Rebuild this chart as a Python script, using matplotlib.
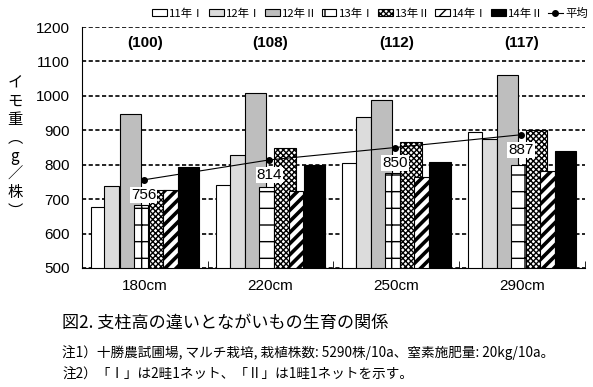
import numpy as np
import matplotlib
matplotlib.use('Agg')
from matplotlib import pyplot as plt

plt.rcParams['font.family'] = ['Noto Sans CJK JP', 'DejaVu Sans']

# 支柱高ごとの区分
groups = ['180cm', '220cm', '250cm', '290cm']
ratio_labels = ['(100)', '(108)', '(112)', '(117)']

series_names = ['11年Ⅰ', '12年Ⅰ', '12年Ⅱ', '13年Ⅰ', '13年Ⅱ', '14年Ⅰ', '14年Ⅱ']
y11_1 = [676, 740, 804, 894]
y12_1 = [737, 827, 938, 876]
y12_2 = [946, 1007, 987, 1060]
y13_1 = [682, 736, 776, 800]
y13_2 = [726, 848, 865, 900]
y14_1 = [728, 724, 763, 782]
y14_2 = [793, 799, 808, 841]
average = [756, 814, 850, 887]

series = [y11_1, y12_1, y12_2, y13_1, y13_2, y14_1, y14_2]

# 見た目の設定（棒の位置・幅・塗り）
offsets = [-0.376, -0.262, -0.118, -0.030, 0.115, 0.202, 0.348]
widths = [0.112, 0.119, 0.167, 0.117, 0.172, 0.119, 0.170]
facecolors = ['white', '#dcdcdc', '#bebebe', 'white', 'white', 'white', 'black']
hatches = [None, None, None, '+', 'xxxxxx', '///', None]
hatch_lw = [1.0, 1.0, 1.0, 1.0, 1.0, 2.6, 1.0]

fig = plt.figure(figsize=(5.93, 3.87), dpi=100)
ax = fig.add_axes([0.1383, 0.3075, 0.848, 0.6227])

x = np.arange(len(groups))
handles = []
for i, vals in enumerate(series):
    plt.rcParams['hatch.linewidth'] = hatch_lw[i]
    b = ax.bar(x + offsets[i], np.array(vals) - 500, widths[i], bottom=500,
               color=facecolors[i], edgecolor='black', linewidth=0.8,
               hatch=hatches[i], label=series_names[i], zorder=3 + i * 0.1)
    handles.append(b)
plt.rcParams['hatch.linewidth'] = 1.0

# 平均
ln, = ax.plot(x - 0.01, average, color='black', lw=0.8, marker='o', ms=4,
              label='平均', zorder=5)
handles.append(ln)
for xi, v in zip(x - 0.01, average):
    ax.annotate(str(v), (xi, v), xytext=(0, -6), textcoords='offset points',
                ha='center', va='top', fontsize=11, zorder=6,
                family=['Liberation Sans', 'DejaVu Sans'],
                bbox=dict(facecolor='white', edgecolor='none', pad=0.8))

for xi, t in zip(x, ratio_labels):
    ax.text(xi, 1155, t, ha='center', va='center', fontsize=11,
            fontweight='bold', family=['Liberation Sans', 'DejaVu Sans'])

ax.set_ylim(500, 1200)
ax.set_xlim(-0.5, 3.5)
ax.set_yticks(range(500, 1201, 100))
ax.set_yticklabels([str(v) for v in range(500, 1201, 100)], fontsize=11,
                   family=['Liberation Sans', 'DejaVu Sans'])
ax.yaxis.grid(True, color='black', linestyle=(0, (2.5, 1.5)), linewidth=1.2, zorder=0)
ax.set_axisbelow(True)
ax.set_xticks(x)
ax.set_xticklabels(groups, fontsize=11, family=['Liberation Sans', 'DejaVu Sans'])
ax.tick_params(axis='x', length=0, pad=8)
ax.tick_params(axis='y', length=0, pad=9)
ax.set_xticks(np.arange(-0.5, 3.6, 1), minor=True)
ax.tick_params(axis='x', which='minor', direction='in', length=5)
for s in ['top', 'right']:
    ax.spines[s].set_visible(False)

fig.text(0.025, 0.62, 'イ\nモ\n重\n︵\ng\n／\n株\n︶', ha='center', va='center',
         fontsize=11, linespacing=1.1)

fig.legend(handles=handles, labels=series_names + ['平均'], loc='center right',
           bbox_to_anchor=(0.995, 0.966), ncol=8, frameon=False, fontsize=8.2,
           handlelength=1.3, handleheight=0.55, handletextpad=0.2, columnspacing=0.35,
           borderpad=0.1, borderaxespad=0.1)

fig.text(0.105, 0.167, '図2. 支柱高の違いとながいもの生育の関係', fontsize=12.3, va='center')
fig.text(0.105, 0.09, '注1）十勝農試圃場, マルチ栽培, 栽植株数: 5290株/10a、窒素施肥量: 20kg/10a。',
         fontsize=9.8, va='center')
fig.text(0.105, 0.031, '注2）「Ⅰ」は2畦1ネット、「Ⅱ」は1畦1ネットを示す。',
         fontsize=9.8, va='center')

fig.savefig('out.png', dpi=100)
